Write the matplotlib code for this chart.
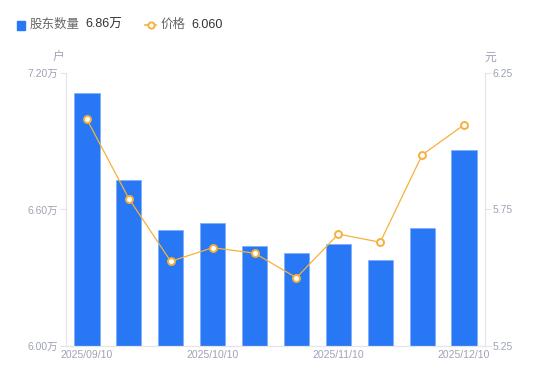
import matplotlib.pyplot as plt
from matplotlib.lines import Line2D

plt.rcParams["font.family"] = ["Liberation Sans", "Noto Sans CJK SC", "DejaVu Sans"]

dates = ["2025/09/10", "2025/09/20", "2025/09/30", "2025/10/10", "2025/10/20",
         "2025/10/31", "2025/11/10", "2025/11/20", "2025/11/28", "2025/12/10"]
holders = [7.11, 6.73, 6.51, 6.54, 6.44, 6.41, 6.45, 6.38, 6.52, 6.86]  # 万户
price = [6.08, 5.79, 5.56, 5.61, 5.59, 5.50, 5.66, 5.63, 5.95, 6.06]  # 元
shown_ticks = [0, 3, 6, 9]

blue = "#2878f5"
orange = "#f7b13a"
tick_c = "#9ea3b5"
axis_c = "#e3e5ea"

fig = plt.figure(figsize=(5.5, 3.81), dpi=100)
ax = fig.add_axes([0.12, 0.0919, 0.7618, 0.7165])
ax2 = ax.twinx()

x = list(range(len(dates)))
ax.bar(x, holders, width=0.6, color=blue, edgecolor="#7fb0fa", linewidth=0.6, zorder=2)
ax2.plot(x, price, color=orange, linewidth=0.9, marker="o", markersize=5,
         markerfacecolor="white", markeredgecolor=orange, markeredgewidth=1.4, zorder=3)

ax.set_xlim(-0.5, len(dates) - 0.5)
ax.set_ylim(6.0, 7.2)
ax.set_yticks([6.0, 6.6, 7.2])
ax.set_yticklabels(["6.00万", "6.60万", "7.20万"])
ax2.set_ylim(5.25, 6.25)
ax2.set_yticks([5.25, 5.75, 6.25])
ax2.set_yticklabels(["5.25", "5.75", "6.25"])
ax.set_xticks(shown_ticks)
ax.set_xticklabels([dates[i] for i in shown_ticks])

for a in (ax, ax2):
    for s in a.spines.values():
        s.set_color(axis_c)
    a.spines["top"].set_visible(False)
    a.tick_params(axis="y", colors=axis_c, labelcolor=tick_c, labelsize=7.5,
                  length=4, width=0.8, pad=1.5)
ax.tick_params(axis="x", length=0, labelcolor=tick_c, labelsize=7.5, pad=3)

ax.text(-0.018, 1.035, "户", transform=ax.transAxes, ha="center", va="bottom",
        fontsize=8.5, color=tick_c)
ax.text(1.012, 1.035, "元", transform=ax.transAxes, ha="center", va="bottom",
        fontsize=8.5, color=tick_c)

# legend row at top
ly = 1 - 25 / 381
sq = plt.Rectangle((17 / 550, ly - 4.5 / 381), 8 / 550, 9 / 381, color=blue,
                   transform=fig.transFigure, figure=fig)
fig.patches.append(sq)
fig.text(30 / 550, ly, "股东数量", fontsize=9, color="#666666", va="center")
fig.text(85 / 550, ly, "6.86万", fontsize=9, color="#333333", va="center")
fig.lines.append(Line2D([145 / 550, 156 / 550], [ly, ly], transform=fig.transFigure,
                        color=orange, linewidth=1.2))
fig.lines.append(Line2D([150.5 / 550], [ly], transform=fig.transFigure,
                        color=orange, marker="o", markersize=4.5,
                        markerfacecolor="white", markeredgewidth=1.4, linestyle="none"))
fig.text(161 / 550, ly, "价格", fontsize=9, color="#666666", va="center")
fig.text(191 / 550, ly, "6.060", fontsize=9, color="#333333", va="center")

fig.savefig("out.png", dpi=100)
